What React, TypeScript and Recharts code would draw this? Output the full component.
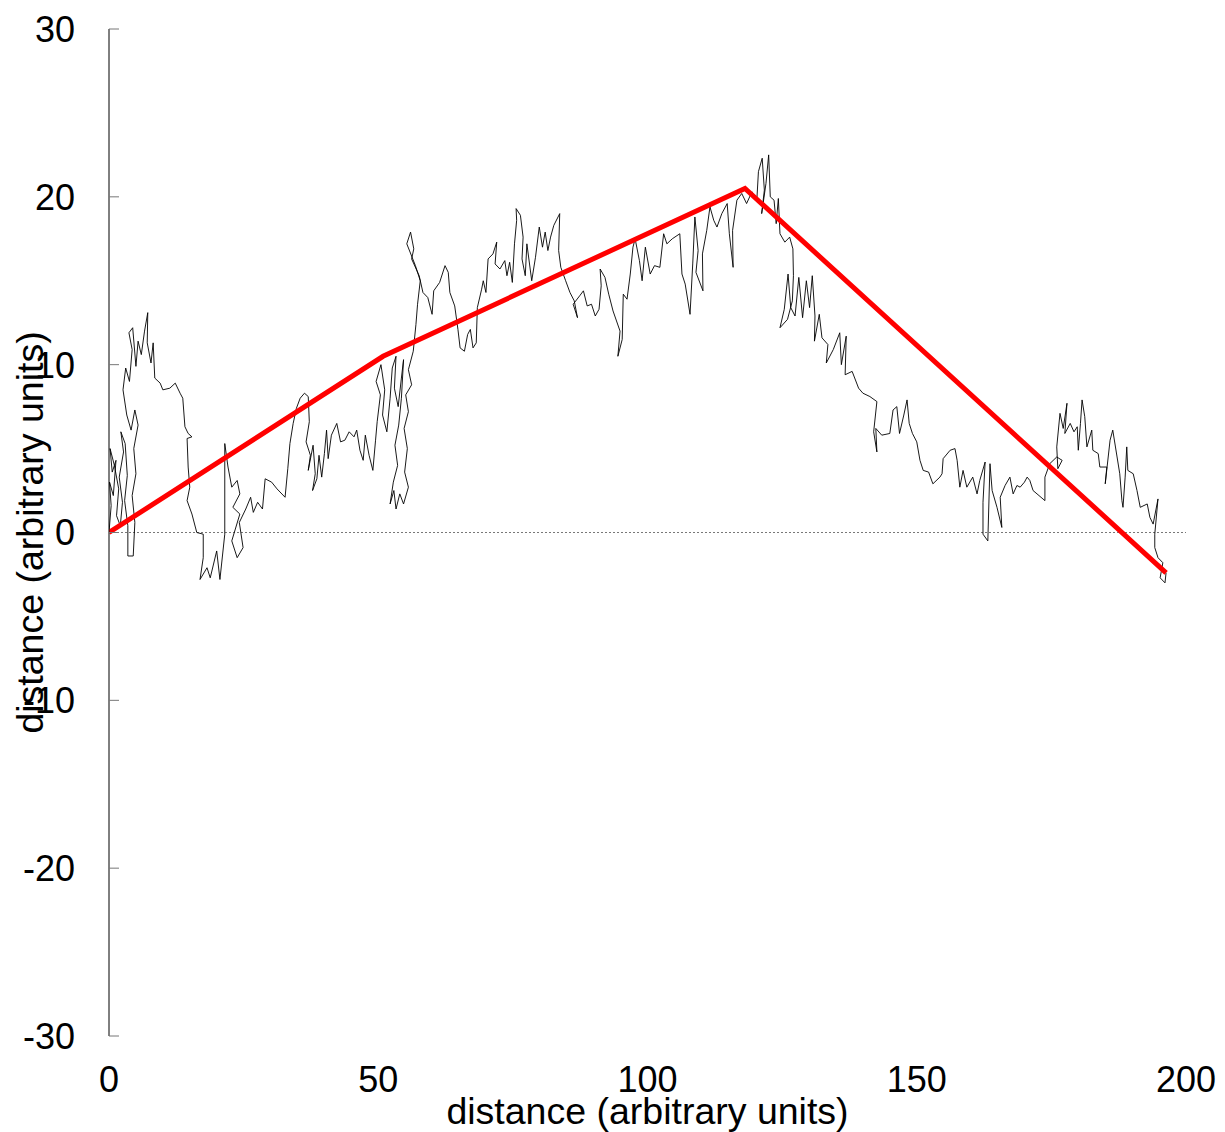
import React from 'react';
import { ComposedChart, Line, XAxis, YAxis, ReferenceLine, Label } from 'recharts';

const FONT = '"Liberation Sans", Arial, sans-serif';

const xTicks = [0, 50, 100, 150, 200];
const yTicks = [-30, -20, -10, 0, 10, 20, 30];

// piecewise trend (red)
const trendX = [0, 50.9, 118.1, 196.3];
const trendY = [0, 10.5, 20.5, -2.4];

// traced random walk, [x, y] in drawing order
const walkPath: [number, number][] = [
  [0, 0], [0.4, 1.6], [0.1, 3.0], [0.8, 2.2], [1.3, 4.3], [0.6, 3.6], [0.2, 5.0], [1.0, 4.0], [1.8, 2.6], [1.4, 1.0],
  [2.1, 0.4], [2.5, 1.8], [1.9, 3.3], [2.7, 4.8], [2.2, 6.0], [3.0, 5.3], [3.4, 3.4], [2.9, 1.9], [3.5, 0.4], [3.5, -1.4],
  [4.5, -1.4], [4.8, 0.6], [4.3, 2.2], [5.0, 3.5], [4.6, 5.0], [5.4, 6.4], [4.8, 7.3], [4.1, 6.1], [3.3, 7.0], [2.6, 8.5],
  [3.1, 9.8], [3.8, 9.0], [4.3, 10.9], [3.7, 11.9], [4.4, 12.2], [5.0, 9.9], [5.4, 11.4], [6.0, 10.6], [6.6, 12.0], [7.2, 13.1],
  [7.1, 11.3], [7.8, 10.1], [8.2, 11.3], [8.5, 9.2], [9.5, 8.9], [10.0, 8.5], [11.3, 8.6], [12.3, 8.9], [13.2, 8.3], [13.7, 8.0],
  [14.1, 6.3], [14.7, 5.9], [15.4, 5.7], [14.5, 5.6], [14.7, 3.9], [15.0, 2.7], [14.5, 1.9], [15.4, 1.1], [16.3, 0], [17.5, -0.1],
  [17.5, -1.5], [16.9, -2.8], [18.2, -2.1], [18.8, -2.7], [20.0, -1.1], [20.6, -2.8], [21.5, -0.1], [21.5, 5.3], [22.1, 3.9], [22.8, 2.7],
  [23.8, 3.1], [24.3, 2.3], [23.0, 1.5], [24.3, 1.1], [22.8, -0.5], [23.8, -1.5], [24.9, -0.9], [24.2, 0.6], [25.4, 1.4], [26.3, 2.1],
  [26.8, 1.2], [27.6, 1.8], [28.5, 1.4], [29.0, 3.2], [30.2, 3.0], [31.2, 2.6], [32.7, 2.1], [33.2, 3.8], [33.6, 5.3], [34.2, 6.5],
  [34.8, 7.4], [35.5, 8.0], [36.3, 8.3], [37.0, 8.1], [37.2, 6.6], [36.6, 5.4], [37.4, 4.6], [37.0, 3.7], [37.9, 5.2], [38.3, 3.5],
  [37.8, 2.5], [38.6, 3.2], [39.0, 4.6], [39.5, 3.3], [40.0, 4.7], [40.4, 6.1], [40.7, 4.4], [41.3, 5.8], [42.3, 6.5], [43.0, 5.4],
  [43.8, 5.5], [44.6, 6.0], [45.5, 5.7], [46.0, 6.1], [46.6, 4.9], [47.2, 4.3], [47.6, 5.8], [48.3, 4.6], [49.0, 3.7], [49.5, 5.5],
  [49.8, 6.6], [50.4, 8.2], [49.6, 9.0], [50.5, 10.0], [51.2, 8.5], [50.8, 7.0], [51.6, 6.0], [52.2, 8.0], [52.6, 9.8], [53.3, 10.5],
  [53.0, 8.6], [53.7, 7.5], [54.3, 9.2], [54.7, 10.3], [54.3, 8.0], [53.8, 6.4], [53.1, 5.2], [53.6, 4.0], [52.8, 3.0], [52.2, 1.7],
  [52.9, 2.5], [53.3, 1.4], [54.0, 2.3], [54.7, 1.7], [55.6, 2.7], [54.9, 3.6], [55.4, 5.0], [54.8, 6.2], [55.6, 7.2], [55.1, 8.2],
  [56.2, 8.8], [55.6, 9.7], [56.5, 10.8], [57.0, 12.4], [57.3, 13.6], [57.8, 15.0], [56.9, 15.9], [55.3, 17.2], [56.0, 17.9], [56.6, 16.9],
  [56.2, 16.3], [57.6, 15.3], [58.3, 14.3], [59.2, 14.0], [60.0, 13.0], [60.3, 14.4], [61.4, 14.9], [62.4, 15.9], [63.0, 15.5], [63.3, 14.3],
  [64.2, 13.5], [64.8, 12.1], [65.2, 11.0], [66.0, 10.8], [66.6, 11.8], [67.1, 12.1], [67.6, 11.0], [68.2, 11.3], [68.4, 13.4], [69.2, 14.5],
  [69.5, 15.0], [70.0, 14.3], [70.4, 16.3], [71.3, 16.6], [72.0, 17.3], [71.7, 16.0], [72.6, 15.7], [73.5, 16.2], [73.9, 15.3], [74.4, 16.1],
  [74.9, 14.9], [75.3, 17.2], [75.7, 18.6], [75.6, 19.3], [76.4, 18.9], [76.9, 17.6], [76.7, 16.3], [77.3, 15.3], [77.6, 17.2], [78.5, 15.0],
  [79.2, 16.4], [79.9, 18.2], [80.5, 17.0], [81.0, 17.9], [81.5, 16.8], [82.0, 17.6], [82.6, 18.3], [83.7, 19.0], [83.5, 16.8], [83.9, 15.8],
  [84.8, 15.0], [85.6, 14.3], [86.4, 13.8], [87.0, 12.8], [86.2, 13.6], [87.4, 14.1], [88.1, 14.4], [88.8, 13.5], [89.6, 13.6], [90.3, 12.9],
  [91.0, 13.3], [91.4, 14.7], [91.2, 15.7], [92.1, 15.2], [92.8, 14.2], [93.6, 13.2], [94.9, 12.0], [94.5, 10.5], [95.3, 11.5], [95.5, 14.2],
  [96.2, 13.9], [96.8, 15.4], [97.3, 17.0], [97.7, 17.5], [98.5, 16.2], [99.0, 15.0], [99.6, 17.0], [100.5, 15.4], [101.3, 15.9], [102.3, 15.8],
  [103.0, 17.8], [103.6, 17.2], [104.6, 17.5], [106.0, 17.8], [106.4, 15.4], [107.0, 14.8], [107.9, 13.0], [108.4, 16.0], [108.8, 18.8], [109.4, 16.8],
  [109.0, 15.5], [110.3, 14.4], [110.2, 16.6], [111.0, 18.0], [111.6, 19.4], [112.3, 18.6], [112.9, 18.2], [113.8, 19.0], [114.8, 19.6], [115.2, 17.8],
  [115.9, 15.8], [115.8, 18.0], [116.6, 19.8], [117.5, 20.2], [118.4, 19.6], [119.4, 20.3], [120.3, 19.8], [120.6, 21.5], [121.3, 22.3], [121.7, 20.4],
  [121.2, 19.0], [122.0, 20.8], [122.5, 22.5], [122.8, 20.0], [123.5, 19.8], [123.9, 18.4], [124.3, 19.9], [124.6, 17.8], [125.5, 17.3], [126.4, 17.6],
  [127.0, 16.9], [127.1, 15.3], [126.9, 13.8], [126.0, 12.7], [124.6, 12.2], [125.4, 13.3], [126.1, 15.4], [126.6, 13.4], [127.4, 12.9], [128.1, 15.2],
  [128.8, 12.8], [129.5, 15.0], [130.1, 13.4], [130.6, 15.3], [131.1, 12.9], [131.0, 11.4], [131.9, 13.0], [132.4, 11.6], [133.5, 11.2], [133.2, 10.1],
  [134.5, 10.9], [135.7, 11.9], [136.0, 10.0], [136.9, 11.7], [136.7, 9.4], [138.0, 9.6], [139.2, 8.6], [140.0, 8.3], [141.3, 8.1], [142.6, 7.8],
  [142.0, 6.0], [142.6, 4.8], [142.4, 6.2], [143.5, 5.8], [145.0, 5.9], [145.6, 7.3], [146.3, 7.5], [146.8, 5.9], [147.6, 7.0], [148.2, 7.9],
  [148.6, 6.5], [149.2, 5.9], [150.0, 5.4], [150.6, 4.3], [151.2, 3.7], [152.2, 3.6], [153.0, 2.9], [154.3, 3.3], [154.7, 3.5], [154.9, 4.4],
  [156.2, 4.9], [157.1, 5.0], [157.5, 4.3], [158.0, 2.7], [158.6, 3.7], [159.3, 2.7], [160.4, 3.3], [161.2, 2.3], [161.7, 3.1], [162.7, 4.2],
  [162.3, 1.8], [162.3, -0.1], [163.2, -0.5], [163.6, 4.1], [164.0, 2.5], [164.9, 1.5], [165.8, 0.3], [165.5, 2.1], [166.4, 2.8], [167.3, 3.3],
  [167.9, 2.3], [168.6, 2.8], [169.2, 2.7], [170.0, 3.0], [170.5, 3.3], [171.0, 3.1], [171.6, 2.5], [172.7, 2.2], [173.8, 1.9], [173.8, 3.3],
  [174.7, 4.1], [176.0, 4.5], [177.0, 4.3], [176.2, 3.8], [176.0, 5.1], [176.6, 7.1], [177.2, 6.2], [177.9, 7.7], [177.5, 5.9], [178.5, 6.5],
  [179.2, 6.0], [179.8, 6.3], [180.0, 4.9], [180.4, 6.5], [180.7, 7.9], [181.2, 6.9], [181.6, 5.1], [182.5, 6.1], [182.7, 4.9], [183.7, 4.7],
  [184.0, 3.9], [185.3, 3.9], [185.0, 2.9], [185.9, 5.5], [186.4, 6.1], [187.2, 4.5], [187.7, 3.5], [188.1, 1.9], [188.3, 1.5], [188.7, 3.3],
  [189.0, 5.1], [189.2, 3.7], [190.2, 3.5], [190.9, 2.5], [191.5, 1.5], [192.8, 1.7], [193.3, 0.9], [193.9, 0.5], [194.8, 2.0], [194.2, -0.1],
  [194.2, -0.9], [194.8, -1.5], [195.7, -1.8], [195.2, -2.7], [196.1, -3.0], [196.3, -2.4],
];

const walkData = walkPath.map(([x, y]) => ({ x, y }));
const trendData = trendX.map((x, i) => ({ x, y: trendY[i] }));

const YTick = (props: any) => {
  const { x, y, payload } = props;
  return (
    <g>
      <line x1={x + 34} x2={x + 44} y1={y} y2={y} stroke="#777" strokeWidth={1} />
      <text x={x} y={y} dy="0.36em" textAnchor="end" fontSize={36} fontFamily={FONT} fill="#000">
        {payload.value}
      </text>
    </g>
  );
};

const XTick = (props: any) => {
  const { x, y, payload } = props;
  return (
    <text x={x} y={y} dy="0.71em" textAnchor="middle" fontSize={36} fontFamily={FONT} fill="#000">
      {payload.value}
    </text>
  );
};

export default function App() {
  return (
    <div style={{ position: 'absolute', left: 0, top: 0, background: '#fff' }}>
      <ComposedChart
        width={1225}
        height={1132}
        margin={{ top: 29, right: 39, left: 0, bottom: 0 }}
        style={{ fontFamily: FONT }}
      >
        <XAxis
          type="number"
          dataKey="x"
          domain={[0, 200]}
          ticks={xTicks}
          axisLine={false}
          tickLine={false}
          tickSize={0}
          tickMargin={30}
          height={96}
          tick={<XTick />}
          allowDataOverflow
        >
          <Label value="distance (arbitrary units)" position="insideBottom" offset={8} fontSize={37.5} fill="#000" />
        </XAxis>
        <YAxis
          type="number"
          dataKey="y"
          domain={[-30, 30]}
          ticks={yTicks}
          axisLine={{ stroke: '#000', strokeWidth: 1 }}
          tickLine={false}
          tickSize={0}
          tickMargin={34}
          width={109}
          tick={<YTick />}
          allowDataOverflow
        >
          <Label
            value="distance (arbitrary units)"
            angle={-90}
            position="insideLeft"
            offset={30}
            fontSize={37.5}
            fill="#000"
            style={{ textAnchor: 'middle' }}
          />
        </YAxis>
        <ReferenceLine y={0} stroke="#555" strokeWidth={0.8} strokeDasharray="2 2" />
        <Line
          data={walkData}
          dataKey="y"
          type="linear"
          stroke="#000"
          strokeWidth={0.9}
          dot={false}
          activeDot={false}
          isAnimationActive={false}
        />
        <Line
          data={trendData}
          dataKey="y"
          type="linear"
          stroke="#ff0000"
          strokeWidth={5}
          dot={false}
          activeDot={false}
          isAnimationActive={false}
        />
      </ComposedChart>
    </div>
  );
}
